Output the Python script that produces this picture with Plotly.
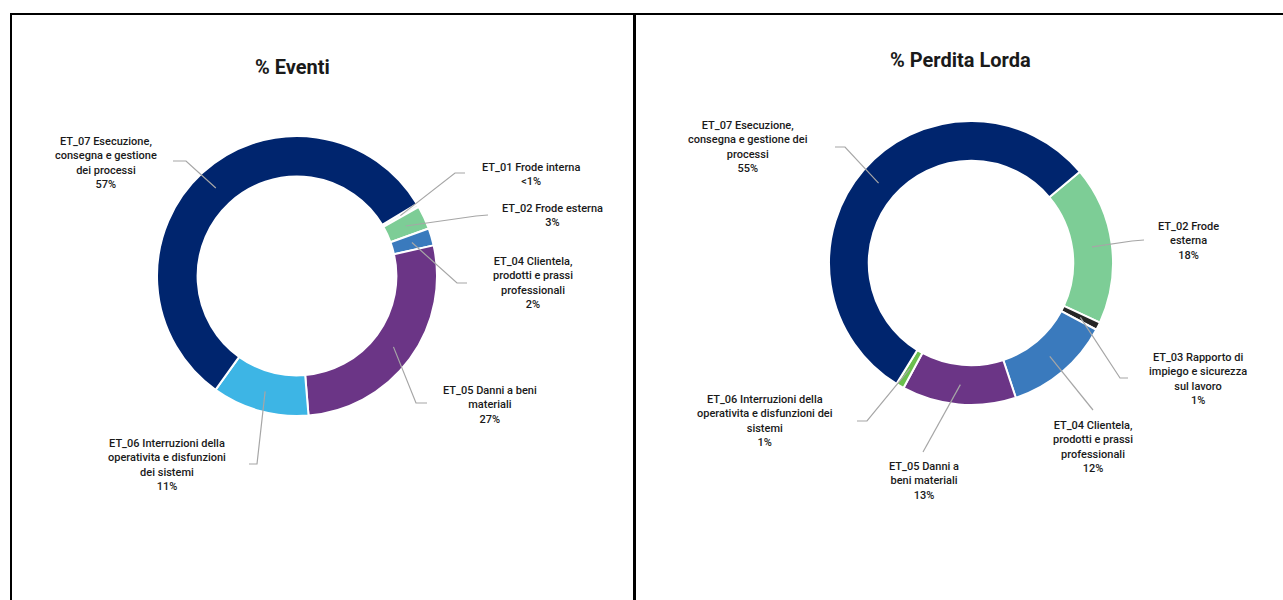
import math
import plotly.graph_objects as go

W, H = 1283, 600

# ---------------- data ----------------
eventi_labels = ["ET_01 Frode interna", "ET_02 Frode esterna", "ET_04 Clientela, prodotti e prassi professionali",
                 "ET_05 Danni a beni materiali", "ET_06 Interruzioni della operativita e disfunzioni dei sistemi",
                 "ET_07 Esecuzione, consegna e gestione dei processi"]
eventi_values = [0.4, 2.7, 2.0, 27.2, 11.2, 56.5]
eventi_text = ["ET_01 Frode interna<br><1%",
               "ET_02 Frode esterna<br>3%",
               "ET_04 Clientela,<br>prodotti e prassi<br>professionali<br>2%",
               "ET_05 Danni a beni<br>materiali<br>27%",
               "ET_06 Interruzioni della<br>operativita e disfunzioni<br>dei sistemi<br>11%",
               "ET_07 Esecuzione,<br>consegna e gestione<br>dei processi<br>57%"]
eventi_colors = ["#eef3ee", "#7dcd96", "#3a7abd", "#6b3586", "#3db5e5", "#00256e"]

perdita_labels = ["ET_02 Frode esterna", "ET_03 Rapporto di impiego e sicurezza sul lavoro",
                  "ET_04 Clientela, prodotti e prassi professionali", "ET_05 Danni a beni materiali",
                  "ET_06 Interruzioni della operativita e disfunzioni dei sistemi",
                  "ET_07 Esecuzione, consegna e gestione dei processi"]
perdita_values = [18.0, 0.9, 12.1, 13.0, 0.9, 55.1]
perdita_text = ["ET_02 Frode<br>esterna<br>18%",
                "ET_03 Rapporto di<br>impiego e sicurezza<br>sul lavoro<br>1%",
                "ET_04 Clientela,<br>prodotti e prassi<br>professionali<br>12%",
                "ET_05 Danni a<br>beni materiali<br>13%",
                "ET_06 Interruzioni della<br>operativita e disfunzioni dei<br>sistemi<br>1%",
                "ET_07 Esecuzione,<br>consegna e gestione dei<br>processi<br>55%"]
perdita_colors = ["#7dcd96", "#262626", "#3a7abd", "#6b3586", "#6bbf4e", "#00256e"]

titles = ["% Eventi", "% Perdita Lorda"]

# ---------------- layout / style (pixels) ----------------
panels = [
    dict(cx=297, cy=276, R=140, hole=0.71, rotation=59, title_xy=(292, 67),
         values=eventi_values, labels=eventi_labels, text=eventi_text, colors=eventi_colors,
         # label centre, attach point, elbow point
         label_pos=[(531, 174), (552, 215), (533, 283), (490, 405), (167, 465), (106, 163)],
         attach=[(465, 173), (488, 215), (467, 283), (427, 403), (249, 464), (173, 161)],
         elbow=[(455, 173), (476, 216), (457, 283), (416, 403), (257, 464), (186, 161)]),
    dict(cx=971, cy=263, R=142, hole=0.72, rotation=50, title_xy=(960, 60),
         values=perdita_values, labels=perdita_labels, text=perdita_text, colors=perdita_colors,
         label_pos=[(1188, 241), (1198, 379), (1093, 447), (924, 481), (765, 421), (748, 147)],
         attach=[(1144, 240), (1128, 378), (1093, 410), (923, 452), (857, 421), (835, 147)],
         elbow=[(1132, 241), (1120, 378), (1093, 410), (923, 452), (867, 421), (845, 147)]),
]


def px(x):
    return x / W


def py(y):
    return 1 - y / H


fig = go.Figure()
shapes = []
annotations = []

for p in panels:
    cx, cy, R = p["cx"], p["cy"], p["R"]
    fig.add_trace(go.Pie(
        labels=p["labels"], values=p["values"], hole=p["hole"], sort=False,
        direction="clockwise", rotation=p["rotation"],
        marker=dict(colors=p["colors"], line=dict(color="white", width=2)),
        textinfo="none", hoverinfo="label+percent", showlegend=False,
        domain=dict(x=[px(cx - R), px(cx + R)], y=[py(cy + R), py(cy - R)]),
    ))
    total = sum(p["values"])
    cum = 0.0
    rmid = R * (1 + p["hole"]) / 2
    for i, v in enumerate(p["values"]):
        ang = math.radians(p["rotation"] + 360 * (cum + v / 2) / total)
        cum += v
        rx = cx + rmid * math.sin(ang)
        ry = cy - rmid * math.cos(ang)
        ex, ey = p["elbow"][i]
        ax, ay = p["attach"][i]
        shapes.append(dict(
            type="path", xref="paper", yref="paper",
            path=f"M {px(rx)},{py(ry)} L {px(ex)},{py(ey)} L {px(ax)},{py(ay)}",
            line=dict(color="#a6a6a6", width=1.2)))
        lx, ly = p["label_pos"][i]
        annotations.append(dict(
            x=px(lx), y=py(ly), xref="paper", yref="paper", text=p["text"][i],
            showarrow=False, xanchor="center", yanchor="middle", align="center",
            font=dict(family="Roboto", size=11, color="#1a1a1a", weight=500)))

for t, p in zip(titles, panels):
    tx, ty = p["title_xy"]
    annotations.append(dict(
        x=px(tx), y=py(ty), xref="paper", yref="paper", text=t, showarrow=False,
        xanchor="center", yanchor="middle",
        font=dict(family="Roboto", size=20, color="#1a1a1a", weight="bold")))

# panel borders
shapes += [
    dict(type="line", xref="paper", yref="paper", x0=px(10), x1=px(1290), y0=py(14), y1=py(14),
         line=dict(color="black", width=2)),
    dict(type="line", xref="paper", yref="paper", x0=px(11), x1=px(11), y0=py(13), y1=py(610),
         line=dict(color="black", width=2)),
    dict(type="line", xref="paper", yref="paper", x0=px(634.5), x1=px(634.5), y0=py(13), y1=py(610),
         line=dict(color="black", width=3)),
]

fig.update_layout(
    width=W, height=H, margin=dict(l=0, r=0, t=0, b=0),
    paper_bgcolor="white", plot_bgcolor="white",
    shapes=shapes, annotations=annotations,
)

fig.write_html("out.html", config={"displayModeBar": False},
               post_script="document.body.style.margin='0';document.body.style.overflow='hidden';")
